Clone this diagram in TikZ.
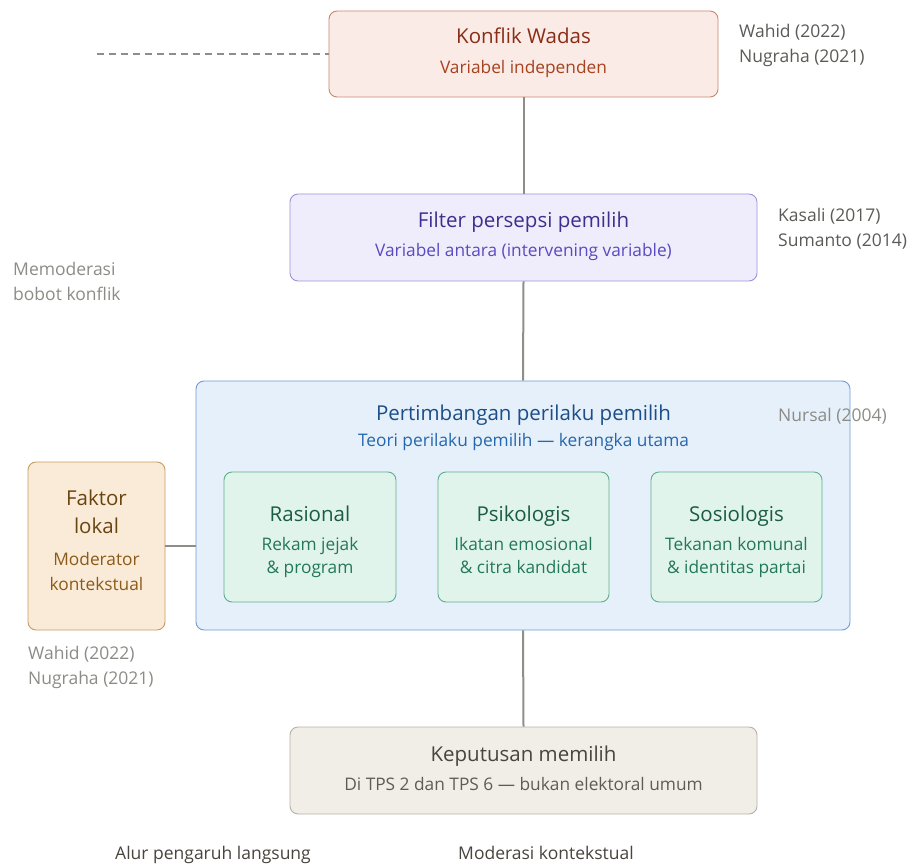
\documentclass[tikz,border=0pt]{standalone}
\usepackage{fontspec}
\setmainfont{Open Sans}
\begin{document}
\begin{tikzpicture}[x=1pt,y=-1pt,
  box/.style={draw, rounded corners=8pt, line width=0.9pt, inner sep=0pt},
  conn/.style={draw=lineC, line width=2pt},
  txt/.style={inner sep=0pt, text height=0.72em, text depth=0.22em, yshift=-3.5pt},
  ttl/.style={txt, font=\fontsize{20.5}{24}\selectfont, anchor=center},
  sub/.style={txt, font=\fontsize{17.3}{20}\selectfont, anchor=center},
  cite/.style={txt, font=\fontsize{17.5}{20}\selectfont, anchor=west},
]
\definecolor{lineC}{HTML}{8E8E88}
\definecolor{kFill}{HTML}{FBEBE6}\definecolor{kDraw}{HTML}{C98570}
\definecolor{kT}{HTML}{8A2D16}\definecolor{kS}{HTML}{A5421F}
\definecolor{fFill}{HTML}{EFEDFB}\definecolor{fDraw}{HTML}{9E91DA}
\definecolor{fT}{HTML}{3D2F8E}\definecolor{fS}{HTML}{5A4AC0}
\definecolor{pFill}{HTML}{E6F0FA}\definecolor{pDraw}{HTML}{6C9DD7}
\definecolor{pT}{HTML}{1B4E87}\definecolor{pS}{HTML}{2567AE}
\definecolor{gFill}{HTML}{E1F4EC}\definecolor{gDraw}{HTML}{5FAE8E}
\definecolor{gT}{HTML}{1A5C44}\definecolor{gS}{HTML}{23785A}
\definecolor{lFill}{HTML}{FAEBD8}\definecolor{lDraw}{HTML}{C69C62}
\definecolor{lT}{HTML}{6A4410}\definecolor{lS}{HTML}{8C5A18}
\definecolor{dFill}{HTML}{F1EEE8}\definecolor{dDraw}{HTML}{B7B1A6}
\definecolor{dT}{HTML}{48443E}\definecolor{dS}{HTML}{5F5B55}
\definecolor{citeD}{HTML}{5A5A56}\definecolor{citeL}{HTML}{8C8C87}

\useasboundingbox (0,0) rectangle (912,866);

% boxes
\node[box, fill=kFill, draw=kDraw, minimum width=389pt, minimum height=86pt] (konflik) at (523.5,54) {};
\node[box, fill=fFill, draw=fDraw, minimum width=467pt, minimum height=87pt] (filter) at (523.5,237.5) {};
\node[box, fill=pFill, draw=pDraw, minimum width=654pt, minimum height=249pt] (pert) at (523,505.5) {};
\node[box, fill=gFill, draw=gDraw, minimum width=172pt, minimum height=130pt] (ras) at (310,537) {};
\node[box, fill=gFill, draw=gDraw, minimum width=171pt, minimum height=130pt] (psi) at (523.5,537) {};
\node[box, fill=gFill, draw=gDraw, minimum width=171pt, minimum height=130pt] (sos) at (736.5,537) {};
\node[box, fill=lFill, draw=lDraw, minimum width=137pt, minimum height=168pt] (lokal) at (96.5,546) {};
\node[box, fill=dFill, draw=dDraw, minimum width=467pt, minimum height=87pt] (kep) at (523.5,770.5) {};

% connectors
\coordinate (dashstart) at (97,54);
\draw[draw=lineC, line width=2pt, dash pattern=on 7pt off 5pt] (dashstart) -- (konflik.west);
\draw[conn] (konflik.south) -- (filter.north);
\draw[conn] (filter.south) -- (pert.north);
\draw[conn] (pert.south) -- (kep.north);
\draw[conn] (lokal.east) -- (lokal.east -| pert.west);

% texts
\node[ttl, text=kT] (konfT) at (523.5,38) {Konflik Wadas};
\node[sub, text=kS] (konfS) at (523.5,68) {Variabel independen};
\node[ttl, text=fT] (filT) at (523.5,222) {Filter persepsi pemilih};
\node[sub, text=fS] (filS) at (523.5,251) {Variabel antara (intervening variable)};
\node[ttl, text=pT] (perT) at (523.5,414) {Pertimbangan perilaku pemilih};
\node[sub, text=pS] (perS) at (523.5,440) {Teori perilaku pemilih — kerangka utama};

\node[ttl, text=gT] (rasT) at (310,515) {Rasional};
\node[sub, text=gS] (rasS1) at (310,544) {Rekam jejak};
\node[sub, text=gS] (rasS2) at (310,567) {\& program};
\node[ttl, text=gT] (psiT) at (523.5,515) {Psikologis};
\node[sub, text=gS] (psiS1) at (523.5,544) {Ikatan emosional};
\node[sub, text=gS] (psiS2) at (523.5,567) {\& citra kandidat};
\node[ttl, text=gT] (sosT) at (736.5,515) {Sosiologis};
\node[sub, text=gS] (sosS1) at (736.5,544) {Tekanan komunal};
\node[sub, text=gS] (sosS2) at (736.5,567) {\& identitas partai};

\node[ttl, text=lT] (lokT1) at (96.5,499) {Faktor};
\node[ttl, text=lT] (lokT2) at (96.5,527) {lokal};
\node[sub, text=lS] (lokS1) at (96.5,559) {Moderator};
\node[sub, text=lS] (lokS2) at (96.5,584) {kontekstual};

\node[ttl, text=dT] (kepT) at (523.5,755) {Keputusan memilih};
\node[sub, text=dS] (kepS) at (523.5,784) {Di TPS 2 dan TPS 6 — bukan elektoral umum};

% citations
\node[cite, text=citeD] (c1) at (739,32) {Wahid (2022)};
\node[cite, text=citeD] (c2) at (739,57) {Nugraha (2021)};
\node[cite, text=citeD] (c3) at (778,216) {Kasali (2017)};
\node[cite, text=citeD] (c4) at (778,241) {Sumanto (2014)};
\node[cite, text=citeL] (c5) at (778,415) {Nursal (2004)};
\node[cite, text=citeL] (m1) at (13,270) {Memoderasi};
\node[cite, text=citeL] (m2) at (13,295) {bobot konflik};
\node[cite, text=citeL] (c6) at (28,653) {Wahid (2022)};
\node[cite, text=citeL] (c7) at (28,678) {Nugraha (2021)};

% legend
\node[cite, text=dT] (leg1) at (115,853) {Alur pengaruh langsung};
\node[cite, text=dT] (leg2) at (458,853) {Moderasi kontekstual};
\end{tikzpicture}
\end{document}
